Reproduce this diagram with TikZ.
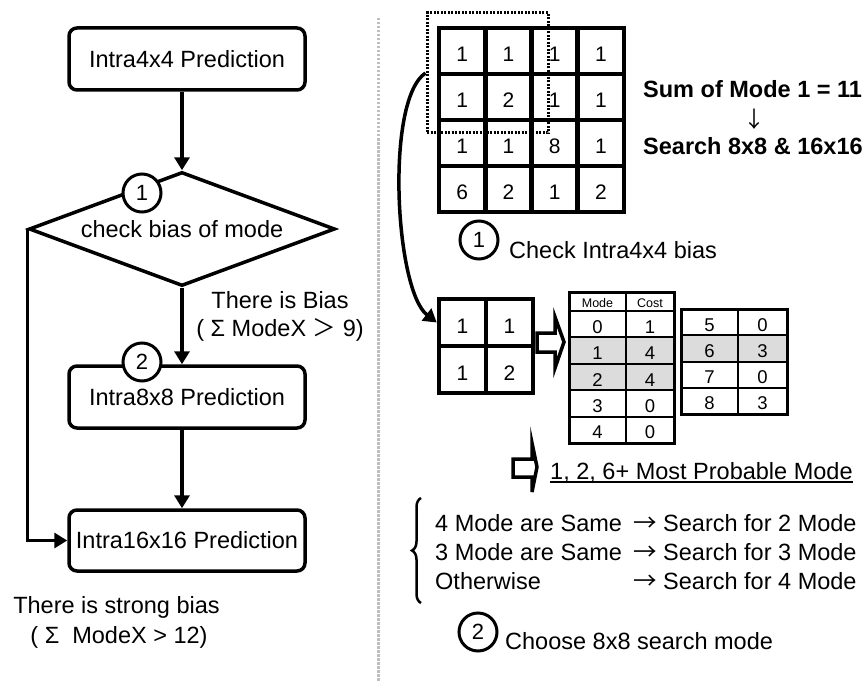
\documentclass[tikz,border=0pt]{standalone}
\usepackage{fontspec}
\setmainfont{Liberation Sans}
\newfontfamily\cjk{Noto Sans CJK SC}
\usetikzlibrary{arrows.meta,shapes.geometric,decorations.pathreplacing,calc}
\definecolor{cellgray}{RGB}{220,220,220}
\definecolor{sepgray}{RGB}{190,190,190}
\newcommand\myfs[1]{\fontsize{#1}{#1}\selectfont}
\begin{document}
\begin{tikzpicture}[x=1pt,y=-1pt,
  txt/.style={inner sep=0pt, font=\myfs{23.5}},
  box/.style={draw, line width=3.5pt, rounded corners=8pt, minimum width=236pt, minimum height=62pt, inner sep=0pt, font=\myfs{23.5}, fill=white},
  dec/.style={diamond, aspect=2.68, draw, line width=3.5pt, minimum width=306pt, minimum height=114pt, inner sep=0pt, font=\myfs{23.5}},
  num/.style={circle, draw, line width=3pt, fill=white, minimum size=38pt, inner sep=0pt, font=\myfs{22}},
  flow/.style={line width=3.5pt, -{Triangle[length=13pt,width=15pt]}},
  cell/.style={draw, line width=4.5pt, minimum size=46pt, inner sep=0pt, font=\myfs{21}, text height=21pt, text depth=0pt},
  tcell/.style={draw, line width=2pt, inner sep=0pt, font=\myfs{18.5}, text height=18pt, text depth=0pt},
  hollow/.style={draw, line width=3.5pt, fill=white, line join=miter}
]
\useasboundingbox (0,0) rectangle (867,682);

% separator
\draw[sepgray, line width=3pt, dash pattern=on 2.5pt off 1.5pt] (378,18) -- (378,682);

% ---------- left flowchart ----------
\node[box] (b1) at (187,59) {Intra4x4 Prediction};
\node[dec] (d) at (182,229) {check bias of mode};
\node[box] (b2) at (187,397) {Intra8x8 Prediction};
\node[box, minimum height=61pt] (b3) at (187,540.5) {Intra16x16 Prediction};

\draw[flow] (b1.south -| d.north) -- (d.north);
\draw[flow] (d.south) -- (d.south |- b2.north);
\draw[flow] (b2.south -| d.north) -- (d.north |- b3.north);
\draw[flow] (d.west) |- (b3.west);

\node[num] (n1) at (142,193) {1};
\node[num] (n2) at (142,362) {2};

\node[txt, anchor=base] (bias) at (280,308.4) {There is Bias};
\node[txt, anchor=base] (biasc) at (280,336.4) {( Σ ModeX {\cjk ＞} 9)};
\node[txt, anchor=base] (strong) at (116.5,613.4) {There is strong bias};
\node[txt, anchor=base] (strongc) at (119,643.4) {( Σ\ \ ModeX > 12)};

% ---------- right: 4x4 grid ----------
\foreach \r/\row in {1/{1,1,1,1},2/{1,2,1,1},3/{1,1,8,1},4/{6,2,1,2}} {
  \foreach \v [count=\c] in \row {
    \node[cell] (g-\r-\c) at ({439+46.25*(\c-0.5)},{28+46*(\r-0.5)}) {\v};
  }
}
\node[draw, line width=3pt, dash pattern=on 2pt off 1.5pt, minimum width=121pt, minimum height=120pt, inner sep=0pt] (sel) at (487.5,73) {};

\node[txt, anchor=base west, font=\myfs{23.5}\bfseries] (sum) at (643,97.4) {Sum of Mode 1 = 11};
\node[txt, font=\myfs{22}\cjk] (down) at (754,119) {↓};
\node[txt, anchor=base west, font=\myfs{23.5}\bfseries] (srch) at (643,154.4) {Search 8x8 \& 16x16};

\node[num] (r1) at (479,240) {1};
\node[txt, anchor=base west] (chk) at (509,258.4) {Check Intra4x4 bias};

% ---------- 2x2 grid ----------
\foreach \r/\row in {1/{1,1},2/{1,2}} {
  \foreach \v [count=\c] in \row {
    \node[cell, minimum size=47pt] (h-\r-\c) at ({439+47*(\c-0.5)},{299+47*(\r-0.5)}) {\v};
  }
}
\draw[flow] (sel.west) .. controls (385,100) and (395,290) .. (h-1-1.west);

% hollow arrow 1
\draw[hollow] (537,333) -- (555,333) -- (555,317) -- (564,342) -- (555,368) -- (555,352) -- (537,352) -- cycle;

% ---------- table 1 ----------
\node[tcell, minimum width=57pt, minimum height=19pt, font=\myfs{12.5}, text height=11pt] (ta-h-m) at (597.5,301.5) {Mode};
\node[tcell, minimum width=48pt, minimum height=19pt, font=\myfs{12.5}, text height=11pt] (ta-h-c) at (650,301.5) {Cost};
\foreach \m/\c/\f [count=\i from 0] in {0/1/white,1/4/cellgray,2/4/cellgray,3/0/white,4/0/white} {
  \node[tcell, fill=\f, minimum width=57pt, minimum height=26.4pt] (ta-\i-m) at (597.5,{311+26.4*\i+13.2}) {\m};
  \node[tcell, fill=\f, minimum width=48pt, minimum height=26.4pt] (ta-\i-c) at (650,{311+26.4*\i+13.2}) {\c};
}
\draw[line width=3pt] (569,292) rectangle (674,443);

% ---------- table 2 ----------
\foreach \m/\c/\f [count=\i from 0] in {5/0/white,6/3/cellgray,7/0/white,8/3/white} {
  \node[tcell, fill=\f, minimum width=57pt, minimum height=26.25pt] (tb-\i-m) at (709.5,{309+26.25*\i+13.125}) {\m};
  \node[tcell, fill=\f, minimum width=49pt, minimum height=26.25pt] (tb-\i-c) at (762.5,{309+26.25*\i+13.125}) {\c};
}
\draw[line width=3pt] (681,309) rectangle (787,414);

% hollow arrow 2
\draw[hollow] (513,459) -- (532,459) -- (532,443) -- (537,467) -- (532,492) -- (532,477) -- (513,477) -- cycle;
\node[txt, anchor=base west] (mpm) at (550,479) {1, 2, 6+ Most Probable Mode};
\draw[line width=1.2pt] ([yshift=-3pt]mpm.base west) -- ([yshift=-3pt]mpm.base east);

% brace and rules
\draw[line width=2.5pt, decorate, decoration={brace, amplitude=9pt}] (421,603) -- (421,498);
\node[txt, anchor=base west] (l1a) at (435,531) {4 Mode are Same};
\node[txt, anchor=base west] (l1b) at (633,531) {{\cjk →} Search for 2 Mode};
\node[txt, anchor=base west] (l2a) at (435,560) {3 Mode are Same};
\node[txt, anchor=base west] (l2b) at (633,560) {{\cjk →} Search for 3 Mode};
\node[txt, anchor=base west] (l3a) at (435,589) {Otherwise};
\node[txt, anchor=base west] (l3b) at (633,589) {{\cjk →} Search for 4 Mode};

\node[num] (r2) at (478,632) {2};
\node[txt, anchor=base west] (choose) at (505,649.4) {Choose 8x8 search mode};
\end{tikzpicture}
\end{document}
